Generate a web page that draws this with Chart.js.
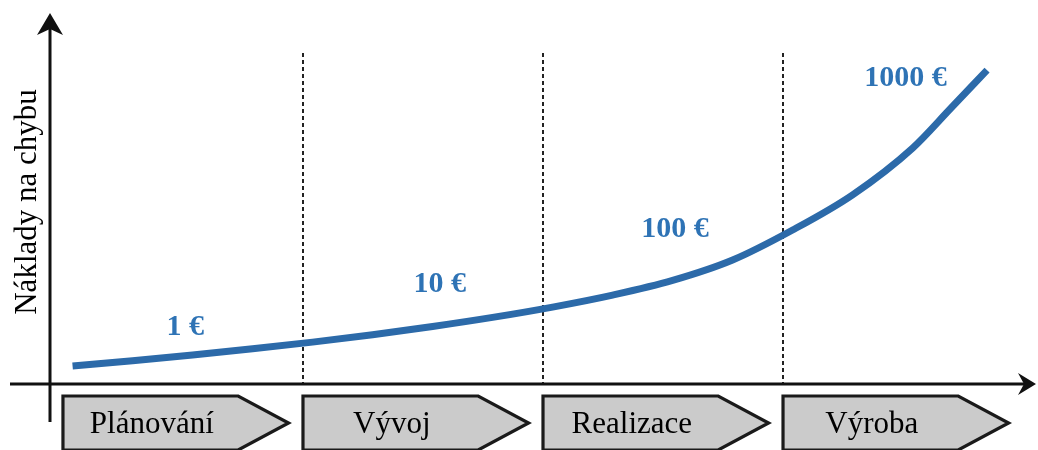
<!DOCTYPE html>
<html>
<head>
<meta charset="utf-8">
<script src="https://cdn.jsdelivr.net/npm/chart.js@4.4.0/dist/chart.umd.min.js"></script>
<style>
  html, body { margin:0; padding:0; background:#fff; }
  #wrap { width:1038px; height:450px; position:relative; }
</style>
</head>
<body>
<div id="wrap"><canvas id="costChart"></canvas></div>
<script>
// phases along the x axis, cost per error in each phase
var phases     = ['Plánování', 'Vývoj', 'Realizace', 'Výroba'];
var costLabels = ['1 €', '10 €', '100 €', '1000 €'];
var stageBounds = [1, 2, 3];

// curve (x = phase units, y = relative cost 0..100)
var curveX = [0.04, 0.29, 0.54, 0.79, 1.04, 1.29, 1.54, 1.79, 2.04,
              2.29, 2.54, 2.79, 3.04, 3.29, 3.54, 3.70, 3.85];
var curveY = [4.85, 6.28, 7.82, 9.49, 11.29, 13.29, 15.5, 17.95, 20.73,
              23.96, 27.92, 33.42, 41.51, 51.0, 63.6, 74.4, 84.6];

var lineBlue  = '#2c6aa9';
var labelBlue = '#2e73b5';
var serif = '"Liberation Serif", "DejaVu Serif", serif';

function arrowHead(ctx, tx, ty, dir, len, half) {
    // dir: 'up' or 'right'
    ctx.beginPath();
    if (dir === 'up') {
        ctx.moveTo(tx, ty);
        ctx.lineTo(tx + half, ty + len + 2);
        ctx.lineTo(tx, ty + len - 4);
        ctx.lineTo(tx - half, ty + len + 2);
    } else {
        ctx.moveTo(tx, ty);
        ctx.lineTo(tx - len - 2, ty - half);
        ctx.lineTo(tx - len + 4, ty);
        ctx.lineTo(tx - len - 2, ty + half);
    }
    ctx.closePath();
    ctx.fill();
}

var decor = {
    id: 'decor',
    beforeDatasetsDraw: function (chart) {
        var ctx = chart.ctx, xs = chart.scales.x, ys = chart.scales.y;
        var area = chart.chartArea;
        var x0 = area.left, y0 = ys.getPixelForValue(0);
        ctx.save();

        // dashed phase boundaries
        ctx.strokeStyle = '#222';
        ctx.lineWidth = 2;
        ctx.setLineDash([4, 3]);
        stageBounds.forEach(function (b) {
            var px = Math.round(xs.getPixelForValue(b));
            ctx.beginPath();
            ctx.moveTo(px, area.top + 40);
            ctx.lineTo(px, y0);
            ctx.stroke();
        });
        ctx.setLineDash([]);

        // axes
        ctx.strokeStyle = '#111';
        ctx.fillStyle = '#111';
        ctx.lineWidth = 3;
        ctx.beginPath();
        ctx.moveTo(x0, y0 + 38);
        ctx.lineTo(x0, area.top + 12);
        ctx.moveTo(10, y0);
        ctx.lineTo(area.right - 4, y0);
        ctx.stroke();
        arrowHead(ctx, x0, area.top, 'up', 20, 13);
        arrowHead(ctx, area.right + 6, y0, 'right', 16, 11);

        // phase chevrons
        ctx.lineWidth = 3.2;
        ctx.strokeStyle = '#1a1a1a';
        ctx.font = '31px ' + serif;
        ctx.textAlign = 'center';
        ctx.textBaseline = 'alphabetic';
        phases.forEach(function (name, i) {
            var left = xs.getPixelForValue(i);
            var body = xs.getPixelForValue(i + 0.73);
            var tip  = xs.getPixelForValue(i + 0.94);
            var top = y0 + 12, mid = y0 + 39, bot = y0 + 66;
            ctx.beginPath();
            ctx.moveTo(left, top);
            ctx.lineTo(body, top);
            ctx.lineTo(tip, mid);
            ctx.lineTo(body, bot);
            ctx.lineTo(left, bot);
            ctx.closePath();
            ctx.fillStyle = '#cbcbcb';
            ctx.fill();
            ctx.stroke();
            ctx.fillStyle = '#000';
            ctx.fillText(name, xs.getPixelForValue(i + 0.37), y0 + 49);
        });

        // y axis title
        ctx.save();
        ctx.translate(36, 202);
        ctx.rotate(-Math.PI / 2);
        ctx.font = '31px ' + serif;
        ctx.fillStyle = '#000';
        ctx.textAlign = 'center';
        ctx.fillText('Náklady na chybu', 0, 0);
        ctx.restore();

        ctx.restore();
    },
    afterDatasetsDraw: function (chart) {
        var ctx = chart.ctx, xs = chart.scales.x, ys = chart.scales.y;
        // label anchors (phase units, cost units)
        var anchorX = [0.51, 1.57, 2.55, 3.51];
        var anchorY = [15.4, 27.0, 41.8, 82.5];
        ctx.save();
        ctx.font = 'bold 30px ' + serif;
        ctx.fillStyle = labelBlue;
        ctx.textAlign = 'center';
        ctx.textBaseline = 'middle';
        costLabels.forEach(function (t, i) {
            ctx.fillText(t, xs.getPixelForValue(anchorX[i]), ys.getPixelForValue(anchorY[i]));
        });
        ctx.restore();
    }
};

new Chart(document.getElementById('costChart'), {
    type: 'line',
    data: {
        datasets: [{
            data: curveX.map(function (x, i) { return { x: x, y: curveY[i] }; }),
            borderColor: lineBlue,
            borderWidth: 7,
            borderCapStyle: 'butt',
            pointRadius: 0,
            cubicInterpolationMode: 'monotone',
            fill: false
        }]
    },
    options: {
        responsive: true, maintainAspectRatio: false, animation: false,
        layout: { padding: { left: 50, right: 8, top: 13, bottom: 66 } },
        plugins: { legend: { display: false }, tooltip: { enabled: false } },
        scales: {
            x: { type: 'linear', min: -0.054, max: 4.029, display: false },
            y: { min: 0, max: 100, display: false }
        }
    },
    plugins: [decor]
});
</script>
</body>
</html>
